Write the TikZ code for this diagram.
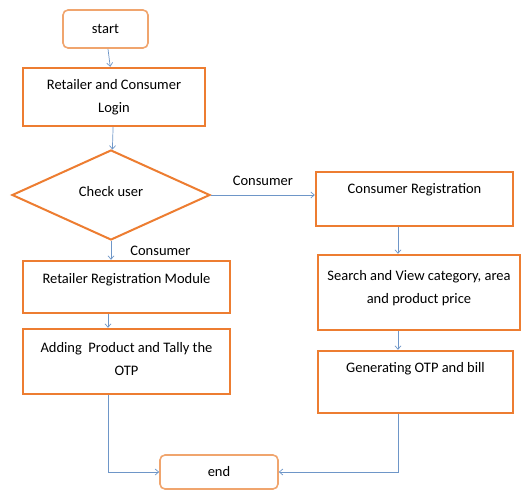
\documentclass[tikz,border=0pt]{standalone}
\usepackage{fontspec}
\setmainfont{Carlito}
\usetikzlibrary{shapes.geometric,arrows.meta,positioning}
\definecolor{orangeB}{RGB}{237,125,49}
\definecolor{orangeL}{RGB}{240,165,110}
\definecolor{arrowC}{RGB}{110,150,200}
\tikzset{
  boxnode/.style={draw=orangeB, line width=2.4pt, fill=white, align=center, inner sep=2pt, font=\fontsize{14.5}{23}\selectfont},
  termnode/.style={draw=orangeL, line width=1.6pt, rounded corners=5pt, fill=white, align=center, font=\fontsize{14.5}{23}\selectfont},
  decnode/.style={draw=orangeB, line width=2pt, diamond, aspect=2.2, inner sep=0pt, fill=white, font=\fontsize{14.5}{23}\selectfont},
  conn/.style={draw=arrowC, line width=0.7pt, -{Straight Barb[length=3.5pt,width=6pt]}},
  lbl/.style={font=\fontsize{14.5}{16}\selectfont, inner sep=1pt}
}
\begin{document}
\begin{tikzpicture}[x=1pt,y=-1pt]
\useasboundingbox (0,0) rectangle (523,495);
\node[termnode, minimum width=85pt, minimum height=38pt] (start) at (105.5,29) {start};
\node[boxnode, minimum width=182pt, minimum height=58pt] (login) at (114,97) {Retailer and Consumer\\Login};
\node[decnode, minimum width=198pt, minimum height=90pt, text depth=8pt] (check) at (111,195) {Check user};
\node[boxnode, minimum width=197pt, minimum height=54pt, text depth=21pt] (cons) at (414.5,199) {Consumer Registration};
\node[boxnode, minimum width=202pt, minimum height=75pt, text depth=12pt] (search) at (419,292.5) {Search and View category, area\\and product price};
\node[boxnode, minimum width=195pt, minimum height=62pt, text depth=30pt] (gen) at (415.5,382) {Generating OTP and bill};
\node[boxnode, minimum width=207pt, minimum height=52pt, text depth=17pt] (ret) at (126.5,287) {Retailer Registration Module};
\node[boxnode, minimum width=207pt, minimum height=65pt, text depth=6pt] (add) at (126.5,361.5) {Adding\ \ Product and Tally the\\OTP};
\node[termnode, minimum width=118pt, minimum height=34pt] (end) at (219,472) {end};
\coordinate (rx) at (398,0);
\coordinate (lx) at (108,0);
\draw[conn] (start) -- (login);
\draw[conn] (login) -- (check);
\draw[conn] (check.east) -- node[lbl, above=8pt] (c1) {Consumer} (cons.west |- check.east);
\draw[conn] (check.south) -- node[lbl, right=18pt] (c2) {Consumer} (ret.north -| check.south);
\draw[conn] (ret.south -| lx) -- (add.north -| lx);
\draw[conn] (cons.south -| rx) -- (search.north -| rx);
\draw[conn] (search.south -| rx) -- (gen.north -| rx);
\draw[conn] (gen.south -| rx) |- (end.east);
\draw[conn] (add.south -| lx) |- (end.west);
\end{tikzpicture}
\end{document}
